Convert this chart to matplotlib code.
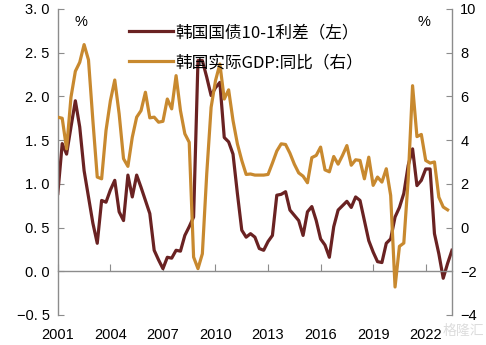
import numpy as np
import matplotlib.pyplot as plt

# quarterly data, 2001Q1 onwards
spread = [0.89, 1.46, 1.34, 1.65, 1.95, 1.65, 1.15, 0.85, 0.55, 0.32,
          0.81, 0.79, 0.93, 1.04, 0.68, 0.58, 1.10, 0.85, 1.10, 0.96,
          0.81, 0.66, 0.24, 0.13, 0.03, 0.16, 0.15, 0.24, 0.23, 0.41,
          0.51, 0.62, 2.41, 2.41, 2.22, 2.01, 2.10, 2.16, 1.53, 1.48,
          1.34, 0.89, 0.47, 0.39, 0.43, 0.39, 0.26, 0.24, 0.34, 0.41,
          0.87, 0.88, 0.91, 0.70, 0.64, 0.58, 0.41, 0.68, 0.74, 0.58,
          0.37, 0.30, 0.16, 0.51, 0.70, 0.75, 0.80, 0.73, 0.85, 0.81,
          0.58, 0.35, 0.22, 0.11, 0.10, 0.32, 0.37, 0.62, 0.73, 0.89,
          1.21, 1.40, 0.98, 1.04, 1.17, 1.17, 0.43, 0.20, -0.08, 0.09,
          0.24]
gdp = [5.05, 5.0, 3.6, 5.96, 7.15, 7.56, 8.37, 7.67, 4.9, 2.31,
       2.23, 4.44, 5.8, 6.75, 5.2, 3.15, 2.8, 4.13, 5.05, 5.35,
       6.19, 5.02, 5.05, 4.82, 4.86, 5.88, 5.43, 6.95, 5.35, 4.29,
       3.9, -1.35, -1.88, -1.2, 2.46, 5.5, 6.72, 7.48, 5.88, 6.3,
       4.9, 3.83, 3.07, 2.43, 2.45, 2.4, 2.4, 2.4, 2.43, 2.95,
       3.5, 3.83, 3.8, 3.4, 2.9, 2.5, 2.35, 2.05, 3.2, 3.3,
       3.68, 2.64, 2.55, 3.25, 2.9, 3.3, 3.75, 2.85, 3.1, 3.07,
       2.23, 3.22, 1.93, 2.31, 2.08, 2.69, 1.47, -2.72, -0.86, -0.71,
       2.2, 6.49, 4.16, 4.26, 3.07, 2.95, 3.0, 1.39, 0.94, 0.81]
spread_label = "韩国国债10-1利差（左）"
gdp_label = "韩国实际GDP:同比（右）"
year_ticks = [2001, 2004, 2007, 2010, 2013, 2016, 2019, 2022]

x1 = 2001 + np.arange(len(spread)) / 4
x2 = 2001 + np.arange(len(gdp)) / 4

red = "#6A2222"
gold = "#C8892F"
grey = "#8C8C8C"
tickfont = "Liberation Sans"
cjk = ["Noto Sans CJK SC", "DejaVu Sans"]

fig = plt.figure(figsize=(4.86, 3.45), dpi=100)
ax = fig.add_axes([0.119, 0.087, 0.811, 0.887])
ax2 = ax.twinx()

l1, = ax.plot(x1, spread, color=red, lw=2.3, label=spread_label)
l2, = ax2.plot(x2, gdp, color=gold, lw=2.3, label=gdp_label)

ax.set_xlim(2001, 2023.5)
ax.set_ylim(-0.5, 3.0)
ax2.set_ylim(-4, 10)
ax.set_yticks(np.arange(-0.5, 3.01, 0.5))
ax.set_yticklabels(["{:.1f}".format(v).replace(".", ". ").replace("-", "\u2212")
                    for v in np.arange(-0.5, 3.01, 0.5)])
ax2.set_yticks(np.arange(-4, 11, 2))
ax2.set_yticklabels(["{:d}".format(v).replace("-", "\u2212") for v in range(-4, 11, 2)])
ax.set_xticks(year_ticks)
ax.set_xticklabels([str(y) for y in year_ticks])

for a in (ax, ax2):
    a.spines["top"].set_visible(False)
    for s in a.spines.values():
        s.set_color(grey)
        s.set_linewidth(1.0)
ax.spines["right"].set_visible(False)
ax2.spines["left"].set_visible(False)
ax2.spines["bottom"].set_visible(False)
ax.spines["bottom"].set_position(("data", 0))

ax.tick_params(axis="y", direction="in", length=4, color=grey, labelsize=10.5, pad=6)
ax2.tick_params(axis="y", direction="in", length=4, color=grey, labelsize=10.5, pad=6)
ax.tick_params(axis="x", direction="in", length=5, color=grey, labelsize=10.5, pad=41)
for lab in ax.get_xticklabels() + ax.get_yticklabels() + ax2.get_yticklabels():
    lab.set_fontfamily(tickfont)

fig.text(81 / 486, 1 - 22 / 345, "%", ha="center", va="center", fontsize=10.5,
         family=tickfont)
fig.text(424 / 486, 1 - 22 / 345, "%", ha="center", va="center", fontsize=10.5,
         family=tickfont)

leg = fig.legend([l1, l2], [spread_label, gdp_label], loc="upper left",
                 bbox_to_anchor=(129 / 486, 1 - 24 / 345), frameon=False,
                 borderpad=0, borderaxespad=0, handlelength=2.65,
                 handletextpad=0.15, labelspacing=0.8,
                 prop={"family": cjk, "size": 12})

# watermark
fig.text(463 / 486, 1 - 331 / 345, "格隆汇", ha="center", va="center",
         fontsize=10, color="#D4D4D4", family=cjk, alpha=0.8)

fig.savefig("out.png", dpi=100)
